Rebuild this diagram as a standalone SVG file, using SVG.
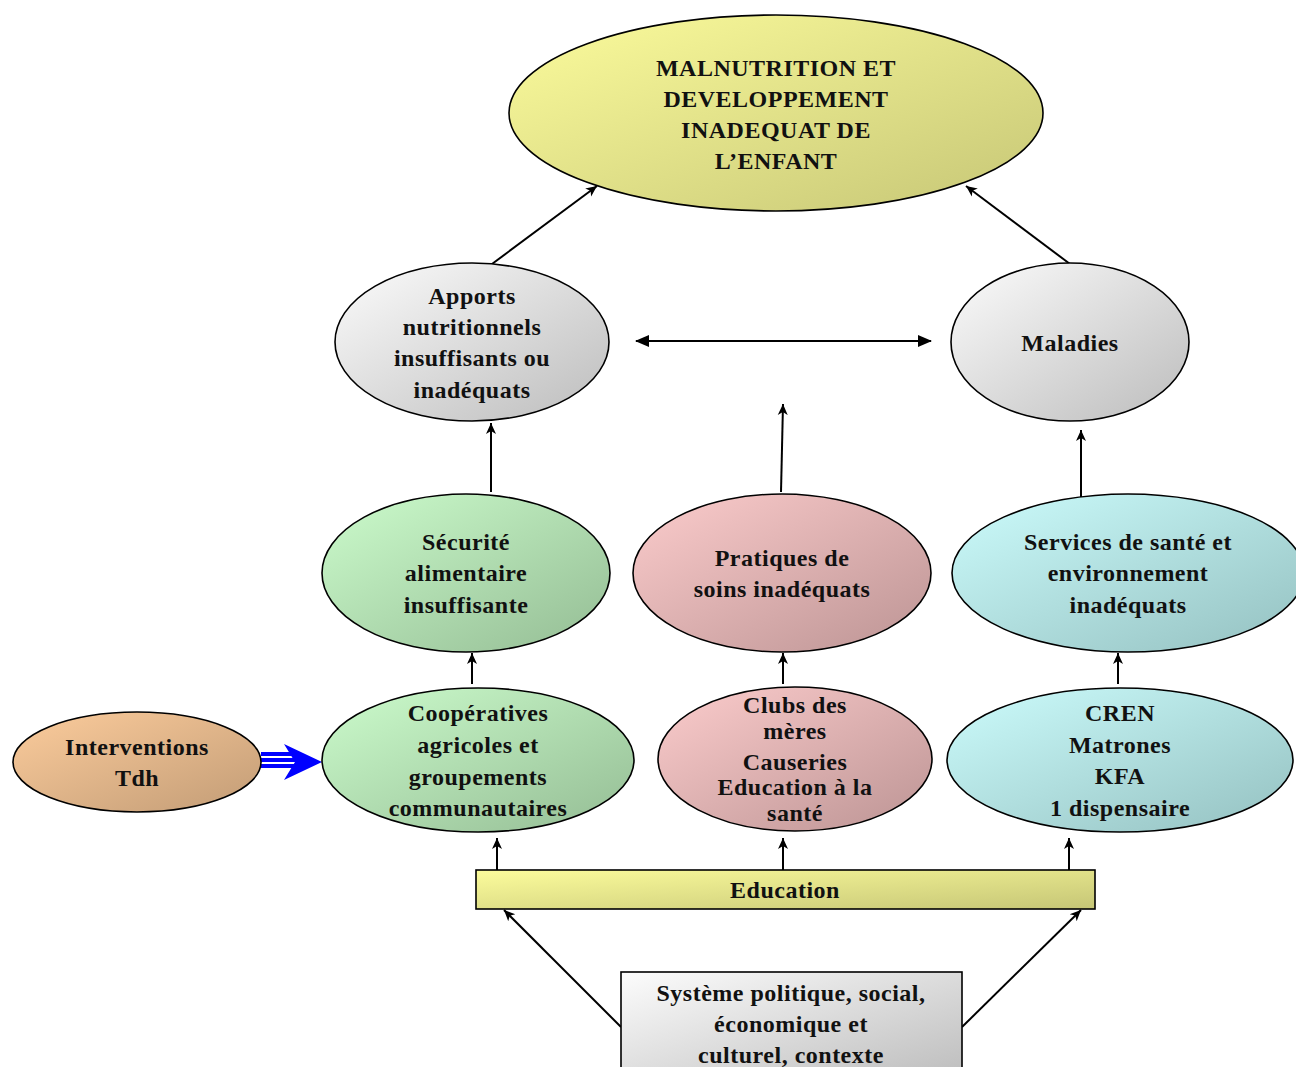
<svg xmlns="http://www.w3.org/2000/svg" width="1296" height="1067" viewBox="0 0 1296 1067">
<style>
.n{stroke:#000;stroke-width:1.6}
text{font-family:"Liberation Serif","Times New Roman",serif;font-weight:bold;font-size:24px;letter-spacing:0.5px;fill:#111;text-anchor:middle}
.c{stroke:#000;stroke-width:2;fill:none}
</style>
<defs>
<linearGradient id="gy" x1="0" y1="0" x2="1" y2="1"><stop offset="0" stop-color="#fcfc9c"/><stop offset="1" stop-color="#c6c676"/></linearGradient>
<linearGradient id="gg" x1="0" y1="0" x2="1" y2="1"><stop offset="0" stop-color="#fcfcfc"/><stop offset="1" stop-color="#bcbcbc"/></linearGradient>
<linearGradient id="gn" x1="0" y1="0" x2="1" y2="1"><stop offset="0" stop-color="#ccfccc"/><stop offset="1" stop-color="#94bc94"/></linearGradient>
<linearGradient id="gp" x1="0" y1="0" x2="1" y2="1"><stop offset="0" stop-color="#fccccc"/><stop offset="1" stop-color="#bc9494"/></linearGradient>
<linearGradient id="gc" x1="0" y1="0" x2="1" y2="1"><stop offset="0" stop-color="#ccfcfc"/><stop offset="1" stop-color="#94c0c0"/></linearGradient>
<linearGradient id="go" x1="0" y1="0" x2="1" y2="1"><stop offset="0" stop-color="#fccc9c"/><stop offset="1" stop-color="#c29c76"/></linearGradient>
<marker id="a" viewBox="0 0 12 12" refX="11" refY="6" markerWidth="12" markerHeight="12" markerUnits="userSpaceOnUse" orient="auto">
<path d="M0,1 L11,6 L0,11 L3,6 z" fill="#000"/>
</marker>
<marker id="t" viewBox="0 0 14 12" refX="13" refY="6" markerWidth="14" markerHeight="12" markerUnits="userSpaceOnUse" orient="auto-start-reverse">
<path d="M0,0 L14,6 L0,12 z" fill="#000"/>
</marker>
</defs>
<g id="connectors">
<line class="c" x1="492" y1="264" x2="597" y2="186" marker-end="url(#a)"/>
<line class="c" x1="1070" y1="264" x2="966" y2="186" marker-end="url(#a)"/>
<line class="c" x1="636" y1="341" x2="931" y2="341" stroke-width="2.5" marker-start="url(#t)" marker-end="url(#t)"/>
<line class="c" x1="491" y1="492" x2="491" y2="423" marker-end="url(#a)"/>
<line class="c" x1="781" y1="492" x2="783" y2="404" marker-end="url(#a)"/>
<line class="c" x1="1081" y1="497" x2="1081" y2="430" marker-end="url(#a)"/>
<line class="c" x1="472" y1="684" x2="472" y2="653" marker-end="url(#a)"/>
<line class="c" x1="783" y1="684" x2="783" y2="653" marker-end="url(#a)"/>
<line class="c" x1="1118" y1="684" x2="1118" y2="653" marker-end="url(#a)"/>
<line class="c" x1="497" y1="870" x2="497" y2="838" marker-end="url(#a)"/>
<line class="c" x1="783" y1="870" x2="783" y2="838" marker-end="url(#a)"/>
<line class="c" x1="1069" y1="870" x2="1069" y2="838" marker-end="url(#a)"/>
<line class="c" x1="621" y1="1027" x2="504" y2="910" marker-end="url(#a)"/>
<line class="c" x1="962" y1="1027" x2="1081" y2="910" marker-end="url(#a)"/>
<g id="blue-arrow">
<rect x="261" y="752" width="36" height="16" fill="#0000ff"/>
<rect x="261" y="756" width="36" height="2" fill="#fff"/>
<rect x="261" y="762" width="36" height="2" fill="#fff"/>
<path d="M284,744 L322,762 L284,780 L295,762 z" fill="#0000ff"/>
</g>
</g>
<g id="n-top">
<ellipse class="n" cx="776" cy="113" rx="267" ry="98" fill="url(#gy)"/>
<text x="776" y="76">MALNUTRITION ET</text>
<text x="776" y="107">DEVELOPPEMENT</text>
<text x="776" y="138">INADEQUAT DE</text>
<text x="776" y="169">L’ENFANT</text>
</g>
<g id="n-apports">
<ellipse class="n" cx="472" cy="342" rx="137" ry="79" fill="url(#gg)"/>
<text x="472" y="304">Apports</text>
<text x="472" y="335">nutritionnels</text>
<text x="472" y="366">insuffisants ou</text>
<text x="472" y="398">inadéquats</text>
</g>
<g id="n-maladies">
<ellipse class="n" cx="1070" cy="342" rx="119" ry="79" fill="url(#gg)"/>
<text x="1070" y="351">Maladies</text>
</g>
<g id="n-securite">
<ellipse class="n" cx="466" cy="573" rx="144" ry="79" fill="url(#gn)"/>
<text x="466" y="550">Sécurité</text>
<text x="466" y="581">alimentaire</text>
<text x="466" y="613">insuffisante</text>
</g>
<g id="n-pratiques">
<ellipse class="n" cx="782" cy="573" rx="149" ry="79" fill="url(#gp)"/>
<text x="782" y="566">Pratiques de</text>
<text x="782" y="597">soins inadéquats</text>
</g>
<g id="n-services">
<ellipse class="n" cx="1128" cy="573" rx="176" ry="79" fill="url(#gc)"/>
<text x="1128" y="550">Services de santé et</text>
<text x="1128" y="581">environnement</text>
<text x="1128" y="613">inadéquats</text>
</g>
<g id="n-interventions">
<ellipse class="n" cx="137" cy="762" rx="124" ry="50" fill="url(#go)"/>
<text x="137" y="755">Interventions</text>
<text x="137" y="786">Tdh</text>
</g>
<g id="n-cooperatives">
<ellipse class="n" cx="478" cy="760" rx="156" ry="72" fill="url(#gn)"/>
<text x="478" y="721">Coopératives</text>
<text x="478" y="753">agricoles et</text>
<text x="478" y="785">groupements</text>
<text x="478" y="816">communautaires</text>
</g>
<g id="n-clubs">
<ellipse class="n" cx="795" cy="759" rx="137" ry="72" fill="url(#gp)"/>
<text x="795" y="713">Clubs des</text>
<text x="795" y="739">mères</text>
<text x="795" y="770">Causeries</text>
<text x="795" y="795">Education à la</text>
<text x="795" y="821">santé</text>
</g>
<g id="n-cren">
<ellipse class="n" cx="1120" cy="760" rx="173" ry="72" fill="url(#gc)"/>
<text x="1120" y="721">CREN</text>
<text x="1120" y="753">Matrones</text>
<text x="1120" y="784">KFA</text>
<text x="1120" y="816">1 dispensaire</text>
</g>
<g id="n-education">
<rect class="n" x="476" y="870" width="619" height="39" fill="url(#gy)"/>
<text x="785" y="898">Education</text>
</g>
<g id="n-systeme">
<rect class="n" x="621" y="972" width="341" height="110" fill="url(#gg)"/>
<text x="791" y="1001">Système politique, social,</text>
<text x="791" y="1032">économique et</text>
<text x="791" y="1063">culturel, contexte</text>
</g>
</svg>
